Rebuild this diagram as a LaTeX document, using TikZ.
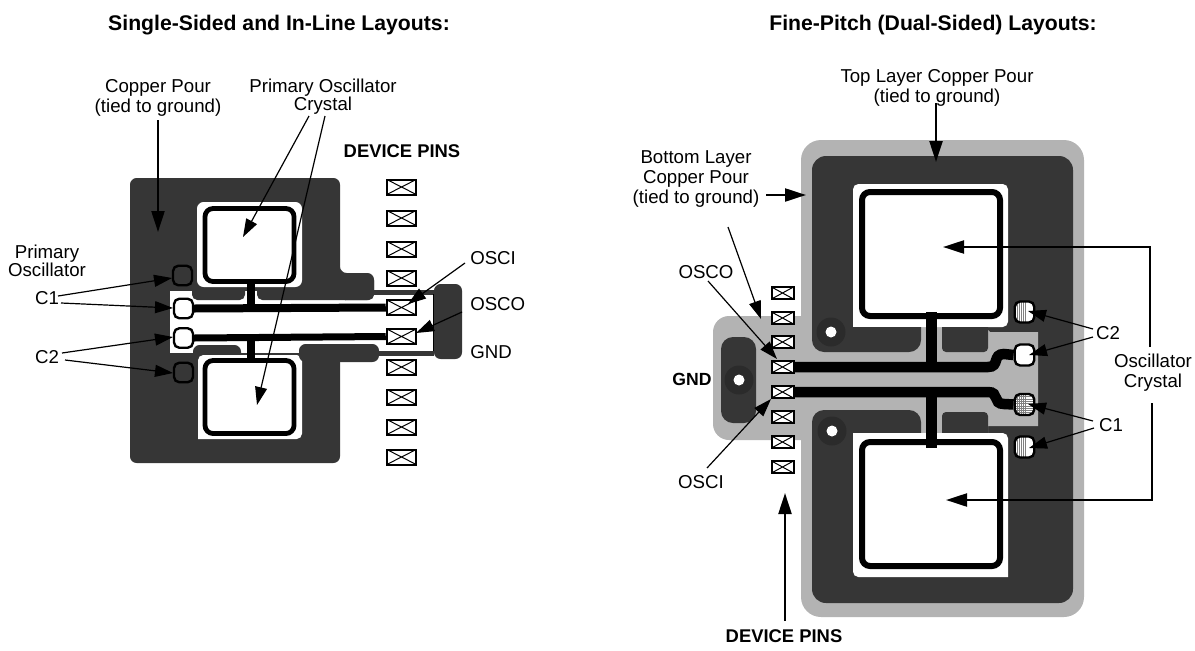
\documentclass[tikz,border=0pt]{standalone}
\usepackage{fontspec}
\setmainfont{Liberation Sans}
\usetikzlibrary{arrows.meta,calc}
\definecolor{pour}{HTML}{363636}
\definecolor{viadark}{HTML}{2B2B2B}
\definecolor{ring}{HTML}{B3B3B3}
\def\pu{0.75pt}
\tikzset{
  lbl/.style={inner sep=0pt,align=center,text=black,font=\fontsize{14}{15}\selectfont},
  lblc/.style={inner sep=0pt,align=center,text=black,font=\fontsize{14}{13.5}\selectfont},
  bold/.style={inner sep=0pt,align=center,text=black,font=\fontsize{13.8}{15}\selectfont\bfseries},
  titletext/.style={inner sep=0pt,align=center,text=black,font=\fontsize{15.9}{18}\selectfont\bfseries},
  thinarrow/.style={line width=1.2*\pu,-{Triangle[length=18*\pu,width=12*\pu]}},
  fatarrow/.style={line width=2.2*\pu,-{Triangle[length=21*\pu,width=13*\pu]}},
  crosspin/.style={draw=black,fill=white,line width=2*\pu,inner sep=0pt,
    path picture={\draw[line width=1*\pu,black]
      (path picture bounding box.north west)--(path picture bounding box.south east)
      (path picture bounding box.north east)--(path picture bounding box.south west);}},
  pinL/.style={crosspin,minimum width=29.5*\pu,minimum height=15*\pu},
  pinR/.style={crosspin,minimum width=22*\pu,minimum height=12*\pu},
  xtal/.style={draw=black,fill=white,inner sep=0pt,rounded corners=6pt},
  padbase/.style={draw=black,line width=2.4*\pu,inner sep=0pt,rounded corners=4pt,minimum width=19*\pu,minimum height=19.5*\pu},
  padw/.style={padbase,fill=white},
  padd/.style={padbase,fill=pour},
  vhatch/.style={padbase,minimum width=19.5*\pu,minimum height=21*\pu,fill=white,
    path picture={\foreach \i in {0,0.11,...,0.6}{\draw[gray,line width=0.5*\pu]
      ($(path picture bounding box.south west)!\i!(path picture bounding box.south east)$)--
      ($(path picture bounding box.north west)!\i!(path picture bounding box.north east)$);}}},
  ghatch/.style={vhatch,path picture={\foreach \i in {0,0.11,...,0.6}{\draw[gray,line width=0.5*\pu]
      ($(path picture bounding box.south west)!\i!(path picture bounding box.south east)$)--
      ($(path picture bounding box.north west)!\i!(path picture bounding box.north east)$);}
      \foreach \i in {0,0.11,...,1}{\draw[gray,line width=0.5*\pu]
      ($(path picture bounding box.south west)!\i!(path picture bounding box.north west)$)--
      ($(path picture bounding box.south east)!\i!(path picture bounding box.north east)$);}}},
  via/.style={circle,fill=viadark,inner sep=0pt,minimum size=29*\pu},
  hole/.style={circle,fill=white,inner sep=0pt,minimum size=11*\pu},
}
\newcommand{\conn}[4]{\coordinate (#2-a) at (#3); \coordinate (#2-b) at (#4); \draw[#1] (#2-a) -- (#2-b);}
\begin{document}
\begin{tikzpicture}[x=0.75pt,y=-0.75pt]
\useasboundingbox (0,0) rectangle (1195,650);
% ---- left layout copper
\fill[pour,rounded corners=5pt] (130,178) -- (340,178) -- (340,273) -- (374,273) -- (374,300) -- (340,300) -- (340,463) -- (130,463) -- cycle;
\fill[white] (170,291) rectangle (345,353);
\fill[pour,rounded corners=4pt] (192,275) rectangle (245,300);
\fill[pour,rounded corners=4pt] (257,275) rectangle (374,300);
\fill[white,rounded corners=5pt] (197,202) rectangle (302,287);
\fill[pour,rounded corners=5pt] (193,345) rectangle (241,365);
\fill[white,rounded corners=4pt] (198,439) -- (198,355) -- (302,355) -- (302,439) [sharp corners] -- cycle;
\fill[pour,rounded corners=5pt] (299,344) rectangle (379,362);
\fill[pour,rounded corners=5pt] (434,284) rectangle (462,359);
\node[xtal,line width=4.8*\pu,minimum width=89*\pu,minimum height=73*\pu] (XLt) at (249.5,245) {};
\node[xtal,line width=4.8*\pu,minimum width=89*\pu,minimum height=73*\pu] (XLb) at (249.5,397) {};
% ---- left pins
\foreach \n/\y in {1/187,2/218,3/249,4/278,5/307.5,6/336.5,7/367,8/397,9/427,10/457}{\node[pinL] (L\n) at (401.5,\y) {};}
% ---- left pads
\node[padd] (C1a) at (182.5,275.5) {};
\node[padw] (C1b) at (183.5,308.5) {};
\node[padw] (C2a) at (183.5,338) {};
\node[padd] (C2b) at (183.5,372.5) {};
% ---- left traces
\conn{line width=5*\pu,pour}{tA}{374,292}{434,292}
\conn{line width=5*\pu,pour}{tB}{379,353}{434,353}
\conn{line width=1*\pu,black}{tC}{433.5,294}{433.5,351}
\draw[line width=8*\pu,black] (C1b.east) -- (L5.west);
\draw[line width=7*\pu,black] (C2a.east) -- (L6.west);
\conn{line width=8*\pu,black}{sA}{251,282}{251,307}
\conn{line width=8*\pu,black}{sB}{251,336}{251,363}
% ---- left labels
\node[titletext] (T1) at (279,25) {Single-Sided and In-Line Layouts:};
\node[lbl] (Lcp) at (158,97.5) {Copper Pour\\(tied to ground)};
\node[lblc] (Lpoc) at (323,97) {Primary Oscillator\\Crystal};
\node[bold] (Ldp) at (402,151) {DEVICE PINS};
\node[lblc] (Lpo) at (47,260.5) {Primary\\Oscillator};
\node[lbl] (Lc1) at (47,298) {C1};
\node[lbl] (Lc2) at (47,357) {C2};
\node[lbl,anchor=west] (Losci) at (470,258) {OSCI};
\node[lbl,anchor=west] (Losco) at (470,304) {OSCO};
\node[lbl,anchor=west] (Lgnd) at (470,352) {GND};
% ---- left arrows
\conn{fatarrow}{a1}{158,120}{158,232}
\conn{thinarrow}{a2}{309,116}{243,237}
\conn{thinarrow}{a3}{325,116}{257,405}
\conn{thinarrow}{a4}{58,296}{172,278}
\conn{thinarrow}{a5}{61,303}{173,308}
\conn{thinarrow}{a6}{62,353}{173,337}
\conn{thinarrow}{a7}{65,360}{173,373}
\conn{thinarrow}{a8}{465,263}{408,304}
\conn{thinarrow}{a9}{462,312}{416,333}
% ---- right layout copper
\fill[ring,rounded corners=15pt] (801,140) rectangle (1084,617);
\fill[ring,rounded corners=12pt] (713,316) rectangle (830,440);
\fill[pour,rounded corners=10.5pt] (812,156) rectangle (1073,603);
\fill[ring] (812,327) -- (985,327) -- (990,332) -- (1038,332) -- (1038,426) -- (988,426) -- (988,433) -- (812,433) -- cycle;
\fill[white,rounded corners=4pt] (853,327) -- (853,184) -- (1008,184) -- (1008,327) [sharp corners] -- cycle;
\fill[white,rounded corners=4pt] (853,433) -- (853,577) [sharp corners] -- (1008,577) [rounded corners=4pt] -- (1008,433) -- cycle;
\fill[pour,rounded corners=9pt] (812,310) rectangle (921,352);
\fill[white] (853,300) rectangle (930,327);
\fill[pour,rounded corners=3pt] (942,315) rectangle (988,352);
\fill[white] (935,300) rectangle (1000,327);
\fill[pour,rounded corners=9pt] (812,410) rectangle (921,450);
\fill[white] (853,433) rectangle (930,460);
\fill[pour,rounded corners=3pt] (942,412) rectangle (988,445);
\fill[white] (935,433) rectangle (1000,460);
\fill[pour,rounded corners=9pt] (721,337) rectangle (756,423);
\node[xtal,line width=6*\pu,minimum width=138*\pu,minimum height=124*\pu] (XRt) at (931,254) {};
\node[xtal,line width=6*\pu,minimum width=138*\pu,minimum height=124*\pu] (XRb) at (931,504) {};
\node[via] (V1) at (739,380) {};
\node[hole] (H1) at (V1) {};
\node[via] (V2) at (831,332) {};
\node[hole] (H2) at (V2) {};
\node[via] (V3) at (832,431) {};
\node[hole] (H3) at (V3) {};
% ---- right pins
\foreach \n/\y in {1/293,2/318,3/342,4/367,5/392,6/417,7/442,8/467}{\node[pinR] (R\n) at (782.5,\y) {};}
% ---- right pads
\node[vhatch] (P1) at (1024.5,312) {};
\node[padw,minimum width=19.5*\pu,minimum height=21*\pu] (P2) at (1024.5,355) {};
\node[ghatch] (P3) at (1024.5,404.5) {};
\node[vhatch] (P4) at (1024.5,447) {};
% ---- right traces
\draw[line width=10.5*\pu,black] (R4.east) -- (988,367) .. controls (1000,367) and (992,354) .. (1004,354) -- (P2.west);
\draw[line width=10.5*\pu,black] (R5.east) -- (988,392) .. controls (1000,392) and (992,404) .. (1004,404) -- (P3.west);
\conn{line width=11*\pu,black}{sC}{931,312}{931,367}
\conn{line width=11*\pu,black}{sD}{931,392}{931,448}
% ---- right labels
\node[titletext,anchor=east] (T2) at (1097,25) {Fine-Pitch (Dual-Sided) Layouts:};
\node[lbl] (Rtl) at (937,87.5) {Top Layer Copper Pour\\(tied to ground)};
\node[lbl] (Rbl) at (696,179.5) {Bottom Layer\\Copper Pour\\(tied to ground)};
\node[lbl] (Rosco) at (706,272) {OSCO};
\node[inner sep=0pt,font=\fontsize{13.2}{15}\selectfont\bfseries] (Rgnd) at (692,379) {GND};
\node[lbl] (Rosci) at (701,482) {OSCI};
\node[bold] (Rdp) at (784,636) {DEVICE PINS};
\node[lbl] (Rc2) at (1108,333) {C2};
\node[lbl] (Rc1) at (1111,425) {C1};
\node[lbl] (Rox) at (1153,373) {Oscillator\\Crystal};
% ---- right arrows
\conn{fatarrow}{b1}{936,103}{936,162}
\conn{fatarrow}{b2}{766,195}{806,195}
\conn{thinarrow}{b3}{728,227}{761,319}
\conn{thinarrow}{b4}{708,281}{777,359}
\conn{thinarrow}{b5}{707,468}{771,399}
\conn{fatarrow}{b6}{785,621}{785,493}
\conn{thinarrow}{b7}{1093,329}{1028,311}
\conn{thinarrow}{b8}{1093,337}{1029,355}
\conn{thinarrow}{b9}{1093,421}{1028,404}
\conn{thinarrow}{b10}{1094,428}{1029,448}
\coordinate (c1a) at (1150,347); \coordinate (c1b) at (1150,247); \coordinate (c1c) at (943,247);
\draw[fatarrow] (c1a) -- (c1b) -- (c1c);
\coordinate (c2a) at (1152,403); \coordinate (c2b) at (1152,500); \coordinate (c2c) at (946,500);
\draw[fatarrow] (c2a) -- (c2b) -- (c2c);
\end{tikzpicture}
\end{document}
